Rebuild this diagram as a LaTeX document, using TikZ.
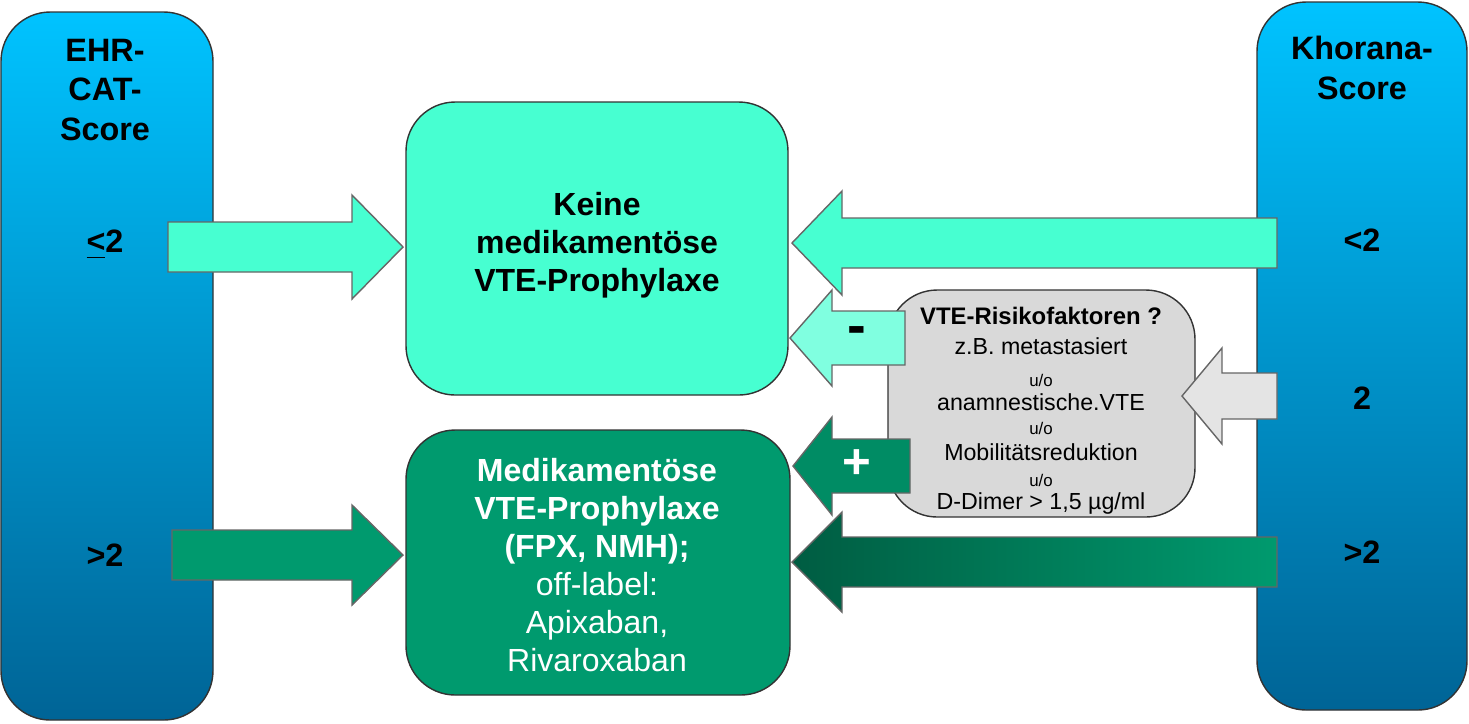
\documentclass[tikz,border=0pt]{standalone}
\usepackage{fontspec}
\setmainfont{Liberation Sans}
\usetikzlibrary{positioning}
\definecolor{aqua}{RGB}{71,255,209}
\definecolor{aqualight}{RGB}{128,255,224}
\definecolor{medgreen}{RGB}{0,154,110}
\definecolor{plusgreen}{RGB}{0,140,100}
\definecolor{bartop}{RGB}{0,195,255}
\definecolor{barbot}{RGB}{0,100,150}
\definecolor{riskgray}{RGB}{217,217,217}
\tikzset{
  bar/.style={draw=black!80, rounded corners=14pt, top color=bartop, bottom color=barbot},
  box/.style={draw=black!80, rounded corners=14pt},
  barlabel/.style={font=\bfseries\fontsize{9.2}{11.2}\selectfont, align=center},
  arr/.style={draw=black!60, line width=0.4pt},
  small/.style={font=\fontsize{6.6}{7}\selectfont},
  tiny/.style={font=\fontsize{4.8}{5}\selectfont}
}
% block arrow: tip x, head base x, tail x, mid y, half body, half head
\newcommand\blockarr[7]{\path[arr,#7] (#1,#4) -- (#2,#4-#6) -- (#2,#4-#5) -- (#3,#4-#5) -- (#3,#4+#5) -- (#2,#4+#5) -- (#2,#4+#6) -- cycle;}
\begin{document}
\begin{tikzpicture}[x=0.01cm, y=-0.01cm]
  \useasboundingbox (0,0) rectangle (1469,723);

  % Score bars
  \path[bar] (1,12) rectangle (213,720);
  \path[bar] (1257,2) rectangle (1467,710);
  \node[barlabel] (ehr) at (105,90) {EHR-\\CAT-\\Score};
  \node[barlabel] (kho) at (1362,68) {Khorana-\\Score};
  \node[barlabel] (ehrlow) at (105,245) {\underline{<}2};
  \node[barlabel] (ehrhigh) at (105,555) {>2};
  \node[barlabel] (kholow) at (1362,240) {<2};
  \node[barlabel] (khomid) at (1362,398) {2};
  \node[barlabel] (khohigh) at (1362,552) {>2};

  % Risk factor box
  \path[box, fill=riskgray] (888,290) rectangle (1195,517);
  \node[font=\bfseries\fontsize{6.8}{7}\selectfont] (risk) at (1041,316) {VTE-Risikofaktoren ?};
  \node[small] (meta) at (1041,346) {z.B. metastasiert};
  \node[tiny] (uo1) at (1041,380) {u/o};
  \node[small] (anam) at (1041,402) {anamnestische.VTE};
  \node[tiny] (uo2) at (1041,428) {u/o};
  \node[small] (mobi) at (1041,452) {Mobilit\"atsreduktion};
  \node[tiny] (uo3) at (1041,480) {u/o};
  \node[small] (ddim) at (1041,503) {D-Dimer > 1,5 µg/ml};

  % Arrows
  \blockarr{403}{352}{168}{247}{25}{52}{fill=aqua}
  \blockarr{403}{352}{172}{555}{25}{50}{fill=medgreen}
  \blockarr{792}{842}{1277}{243}{25}{52}{fill=aqua}
  \blockarr{1182}{1222}{1277}{396}{23}{48}{fill=riskgray!70}
  \blockarr{792}{842}{1277}{562}{25}{50}{left color=medgreen!60!black, right color=medgreen}
  \blockarr{790}{832}{905}{338}{27}{48}{fill=aqualight}
  \blockarr{793}{832}{910}{466}{27}{49}{fill=plusgreen}
  \node[font=\bfseries\fontsize{16}{16}\selectfont] (minus) at (857,336) {-};
  \node[font=\bfseries\fontsize{14}{14}\selectfont, text=white] (plus) at (857,464) {+};

  % Boxes
  \path[box, fill=aqua] (406,102) rectangle (788,395);
  \node[font=\bfseries\fontsize{9.1}{10.8}\selectfont, align=center] (keine) at (597,245)
    {Keine\\medikament\"ose\\VTE-Prophylaxe};
  \path[box, fill=medgreen] (406,430) rectangle (790,695);
  \node[font=\fontsize{9.1}{10.8}\selectfont, align=center, text=white] (medi) at (597,565)
    {\textbf{Medikament\"ose}\\\textbf{VTE-Prophylaxe}\\\textbf{(FPX, NMH);}\\off-label:\\Apixaban,\\Rivaroxaban};
\end{tikzpicture}
\end{document}
